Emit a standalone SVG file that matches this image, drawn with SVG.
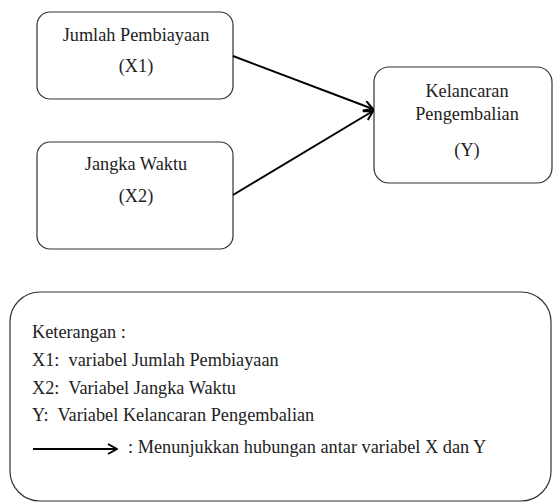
<svg xmlns="http://www.w3.org/2000/svg" width="553" height="502" viewBox="0 0 553 502">
<style>
.box{fill:#fff;stroke:#333;stroke-width:1.2}
text{font-family:"Liberation Serif","Times New Roman","DejaVu Serif",serif;font-size:18.3px;fill:#222}
.c{text-anchor:middle}
.edge{stroke:#000;stroke-width:2;fill:none}
</style>
<defs>
<marker id="ah" viewBox="0 0 12 12" refX="11" refY="6" markerWidth="12" markerHeight="12" markerUnits="userSpaceOnUse" orient="auto">
<path d="M2,1 L11,6 L2,11" fill="none" stroke="#000" stroke-width="2"/>
</marker>
</defs>
<rect width="553" height="502" fill="#fff"/>
<g id="x1">
<rect class="box" x="37" y="12" width="196" height="87" rx="13"/>
<text class="c" x="136" y="41">Jumlah Pembiayaan</text>
<text class="c" x="136" y="72">(X1)</text>
</g>
<g id="x2">
<rect class="box" x="37" y="142" width="196" height="107" rx="13"/>
<text class="c" x="136" y="170">Jangka Waktu</text>
<text class="c" x="136" y="202">(X2)</text>
</g>
<g id="y">
<rect class="box" x="374" y="67" width="178" height="116" rx="15"/>
<text class="c" x="467" y="97">Kelancaran</text>
<text class="c" x="467" y="120">Pengembalian</text>
<text class="c" x="467" y="156">(Y)</text>
</g>
<g id="connectors">
<line class="edge" x1="233" y1="56" x2="373" y2="109" marker-end="url(#ah)"/>
<line class="edge" x1="233" y1="195" x2="373" y2="111" marker-end="url(#ah)"/>
</g>
<g id="legend">
<rect class="box" x="10" y="292" width="541" height="209" rx="30"/>
<text x="32" y="338" xml:space="preserve">Keterangan :</text>
<text x="32" y="366" xml:space="preserve">X1:  variabel Jumlah Pembiayaan</text>
<text x="32" y="394" xml:space="preserve">X2:  Variabel Jangka Waktu</text>
<text x="32" y="421" xml:space="preserve">Y:  Variabel Kelancaran Pengembalian</text>
<line class="edge" x1="33" y1="449" x2="117" y2="449" marker-end="url(#ah)"/>
<text x="128" y="453" xml:space="preserve">: Menunjukkan hubungan antar variabel X dan Y</text>
</g>
</svg>
